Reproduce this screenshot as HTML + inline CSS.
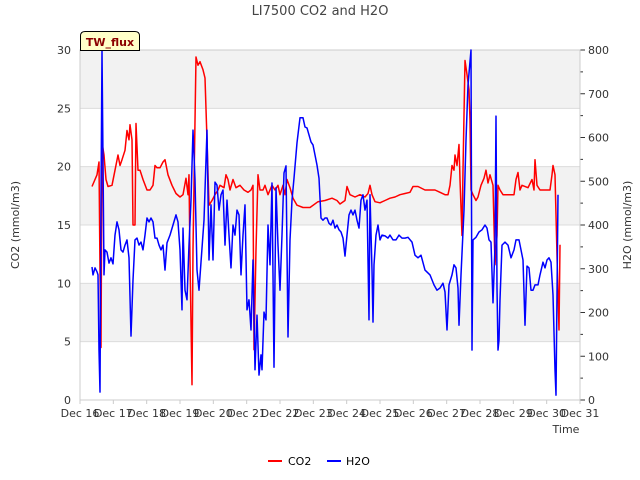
<!DOCTYPE html>
<html><head><meta charset="utf-8"><style>
body{margin:0;background:#fff;}
svg{display:block;font-family:"DejaVu Sans","Liberation Sans",sans-serif;}
</style></head><body>
<svg id="chart" width="640" height="480">
<text x="320" y="15" text-anchor="middle" font-size="13" fill="#444">LI7500 CO2 and H2O</text>
<g id="bands"></g><g id="grid"></g><g id="axes"></g>
<g id="series"></g>
<g>
<path d="M80.5,50.5 V36 Q80.5,31.5 85,31.5 H135 Q139.5,31.5 139.5,36 V50.5 Z" fill="#ffffc8" stroke="#000" stroke-width="1"/>
<text x="110" y="46" text-anchor="middle" font-size="11" font-weight="bold" fill="#8b0000">TW_flux</text>
</g>
<text transform="translate(19,225) rotate(-90)" text-anchor="middle" font-size="11" fill="#333">CO2 (mmol/m3)</text>
<text transform="translate(631,225) rotate(-90)" text-anchor="middle" font-size="11" fill="#333">H2O (mmol/m3)</text>
<text x="566" y="433" text-anchor="middle" font-size="11" fill="#333">Time</text>
<g><line x1="268" y1="461" x2="282" y2="461" stroke="#f00" stroke-width="2"/><text x="288" y="465" font-size="11" fill="#000">CO2</text></g>
<g><line x1="327" y1="461" x2="341" y2="461" stroke="#00f" stroke-width="2"/><text x="346" y="465" font-size="11" fill="#000">H2O</text></g>
</svg>
<script>
const xTickLabels=["Dec 16","Dec 17","Dec 18","Dec 19","Dec 20","Dec 21","Dec 22","Dec 23","Dec 24","Dec 25","Dec 26","Dec 27","Dec 28","Dec 29","Dec 30","Dec 31"];
const leftTicks=[0,5,10,15,20,25,30];
const rightTicks=[0,100,200,300,400,500,600,700,800];
const co2Days=[0.36,0.45,0.51,0.57,0.6,0.63,0.66,0.72,0.78,0.84,0.96,1.05,1.14,1.2,1.26,1.35,1.41,1.47,1.5,1.56,1.59,1.65,1.68,1.74,1.8,1.89,2.01,2.1,2.19,2.25,2.31,2.4,2.49,2.55,2.64,2.76,2.88,3.0,3.09,3.18,3.24,3.27,3.3,3.36,3.39,3.48,3.54,3.6,3.69,3.75,3.81,3.87,3.96,4.05,4.14,4.2,4.32,4.38,4.44,4.5,4.59,4.68,4.8,4.92,5.04,5.13,5.19,5.22,5.28,5.34,5.4,5.49,5.55,5.64,5.76,5.85,5.94,6.0,6.09,6.15,6.21,6.3,6.39,6.51,6.69,6.9,7.14,7.35,7.56,7.71,7.8,7.95,8.01,8.1,8.25,8.4,8.55,8.64,8.7,8.76,8.85,9.0,9.15,9.3,9.45,9.6,9.75,9.9,9.99,10.14,10.35,10.65,10.8,10.95,11.04,11.1,11.16,11.22,11.25,11.31,11.37,11.4,11.46,11.49,11.55,11.61,11.67,11.7,11.73,11.79,11.88,11.94,12.03,12.12,12.18,12.24,12.3,12.39,12.45,12.51,12.54,12.6,12.69,12.9,13.02,13.08,13.14,13.2,13.26,13.44,13.56,13.62,13.65,13.71,13.8,13.95,14.1,14.16,14.19,14.25,14.31,14.37,14.4];
const co2Values=[18.3,18.9,19.3,20.4,11.1,4.5,22.1,21.0,18.9,18.3,18.4,19.7,21.0,20.1,20.6,21.4,23.1,22.3,23.6,22.3,15.0,15.0,23.7,19.7,19.7,18.9,18.0,18.0,18.4,20.1,19.9,19.9,20.4,20.6,19.3,18.4,17.7,17.4,17.6,19.0,17.6,19.3,12.0,1.3,12.9,29.4,28.7,29.0,28.3,27.6,22.3,16.7,17.1,17.6,18.0,18.4,18.2,19.3,18.9,18.0,18.9,18.2,18.4,18.0,17.8,18.0,18.4,4.3,12.9,19.3,18.0,18.0,18.4,17.6,18.4,18.0,18.4,17.6,18.4,17.6,18.9,18.2,17.3,16.7,16.5,16.5,17.0,17.1,17.3,17.1,16.8,17.1,18.3,17.6,17.4,17.6,17.4,17.7,18.4,17.6,17.0,16.9,17.1,17.3,17.4,17.6,17.7,17.8,18.3,18.3,18.0,18.0,17.8,17.6,17.6,18.4,20.1,19.7,21.0,20.1,21.9,18.9,14.1,19.7,29.1,27.9,26.6,24.0,18.0,17.6,17.1,17.4,18.4,19.0,19.7,18.6,19.3,18.4,11.6,14.1,18.4,18.0,17.6,17.6,17.6,18.9,19.5,18.0,18.4,18.2,18.9,18.0,20.6,18.4,18.0,18.0,18.0,19.3,20.1,19.3,12.4,6.0,13.3];
const h2oPx=[92,93,95,97,98,99,100,101,102,103,104,105,107,109,111,113,115,117,119,121,123,125,127,129,131,133,135,137,139,141,143,145,147,149,151,153,155,157,159,161,163,165,167,170,173,176,178,180,182,183,185,187,189,191,193,195,197,199,201,204,207,209,211,213,215,217,219,221,223,225,227,229,231,233,235,237,239,241,243,245,247,249,251,253,255,257,259,261,262,264,266,268,270,272,274,276,278,280,282,284,286,288,290,292,294,297,300,303,305,307,309,311,313,315,317,319,321,323,325,327,329,331,333,335,337,339,341,343,345,347,349,351,353,355,357,359,361,363,365,367,368,369,370,372,373,374,376,378,380,382,385,388,390,393,396,399,402,405,408,412,415,418,421,425,430,434,437,440,443,445,447,449,452,454,456,458,459,461,464,466,468,471,472,473,476,479,482,485,487,489,491,493,495,496,497,498,499,500,502,505,508,511,514,516,519,521,523,525,527,529,531,533,535,538,540,543,545,547,549,551,553,555,556,558];
const h2oDays=h2oPx.map(p=>+((p-80)*0.03).toFixed(2));
const h2oValues=[304,286,302,293,286,114,18,457,800,549,286,343,338,313,325,311,377,407,389,343,338,354,366,325,146,274,366,370,354,361,343,377,416,407,416,407,370,370,354,343,354,297,359,377,400,423,407,343,206,393,251,229,354,457,617,503,297,251,315,411,617,320,446,320,498,491,434,469,480,354,457,377,302,400,377,434,423,286,377,446,206,229,160,320,69,194,57,103,69,201,183,400,309,496,75,485,354,251,377,519,535,144,366,457,507,588,645,645,624,622,606,590,583,560,537,507,416,411,416,416,404,400,411,393,400,389,384,370,329,377,423,434,423,434,411,393,457,469,434,457,320,183,469,297,178,309,377,400,366,377,375,370,377,366,366,377,370,370,372,361,331,325,331,297,286,263,251,256,267,247,160,263,286,309,302,256,171,286,434,594,720,800,114,366,372,384,389,400,393,366,361,222,354,649,256,114,137,229,354,361,354,325,343,366,366,343,320,171,306,302,251,251,263,263,286,315,302,320,325,315,240,69,11,469];

const NS="http://www.w3.org/2000/svg";
const X0=80,X1=580,Y0=400,Y1=50;
const xs=d=>X0+d*(X1-X0)/15;
const yL=v=>Y0-v*(Y0-Y1)/30;
const yR=v=>Y0-v*(Y0-Y1)/800;
function mk(tag,attrs,parent){const e=document.createElementNS(NS,tag);for(const k in attrs)e.setAttribute(k,attrs[k]);parent.appendChild(e);return e;}
const bands=document.getElementById('bands'),grid=document.getElementById('grid'),axes=document.getElementById('axes'),series=document.getElementById('series');
for(let i=0;i<6;i++){
  if(i%2===1){const r=mk('rect',{x:X0,y:yL((i+1)*5),width:X1-X0,height:yL(i*5)-yL((i+1)*5),fill:'#f2f2f2'},bands);
  
  }
}
leftTicks.forEach(v=>{
  const l=mk('line',{x1:X0,x2:X1,y1:yL(v),y2:yL(v),stroke:'#dcdcdc','stroke-width':1},grid);
  
  
  const t=mk('text',{x:71,y:yL(v)+4,'text-anchor':'end','font-size':11,fill:'#333'},axes);t.textContent=v;
  
  
});
rightTicks.forEach(v=>{
  mk('line',{x1:X1,x2:X1+5,y1:yR(v),y2:yR(v),stroke:'#333'},axes);
  if(v<800)mk('line',{x1:X1,x2:X1+3,y1:yR(v+50),y2:yR(v+50),stroke:'#333'},axes);
  const t=mk('text',{x:588,y:yR(v)+4,'font-size':11,fill:'#333'},axes);t.textContent=v;
  
  
});
mk('rect',{x:X0,y:Y1,width:X1-X0,height:Y0-Y1,fill:'none',stroke:'#ccc'},axes);
xTickLabels.forEach((s,i)=>{
  mk('line',{x1:xs(i),x2:xs(i),y1:Y0,y2:Y0+4,stroke:'#ccc'},axes);
  const t=mk('text',{x:xs(i),y:417,'text-anchor':'middle','font-size':11,fill:'#333'},axes);t.textContent=s;
  
  
});
const co2=mk('polyline',{points:co2Days.map((d,i)=>xs(d).toFixed(1)+','+yL(co2Values[i]).toFixed(1)).join(' '),fill:'none',stroke:'#f00','stroke-width':1.5,'stroke-linejoin':'round'},series);


const h2o=mk('polyline',{points:h2oDays.map((d,i)=>xs(d).toFixed(1)+','+yR(h2oValues[i]).toFixed(1)).join(' '),fill:'none',stroke:'#00f','stroke-width':1.5,'stroke-linejoin':'round'},series);


</script>
</body></html>
